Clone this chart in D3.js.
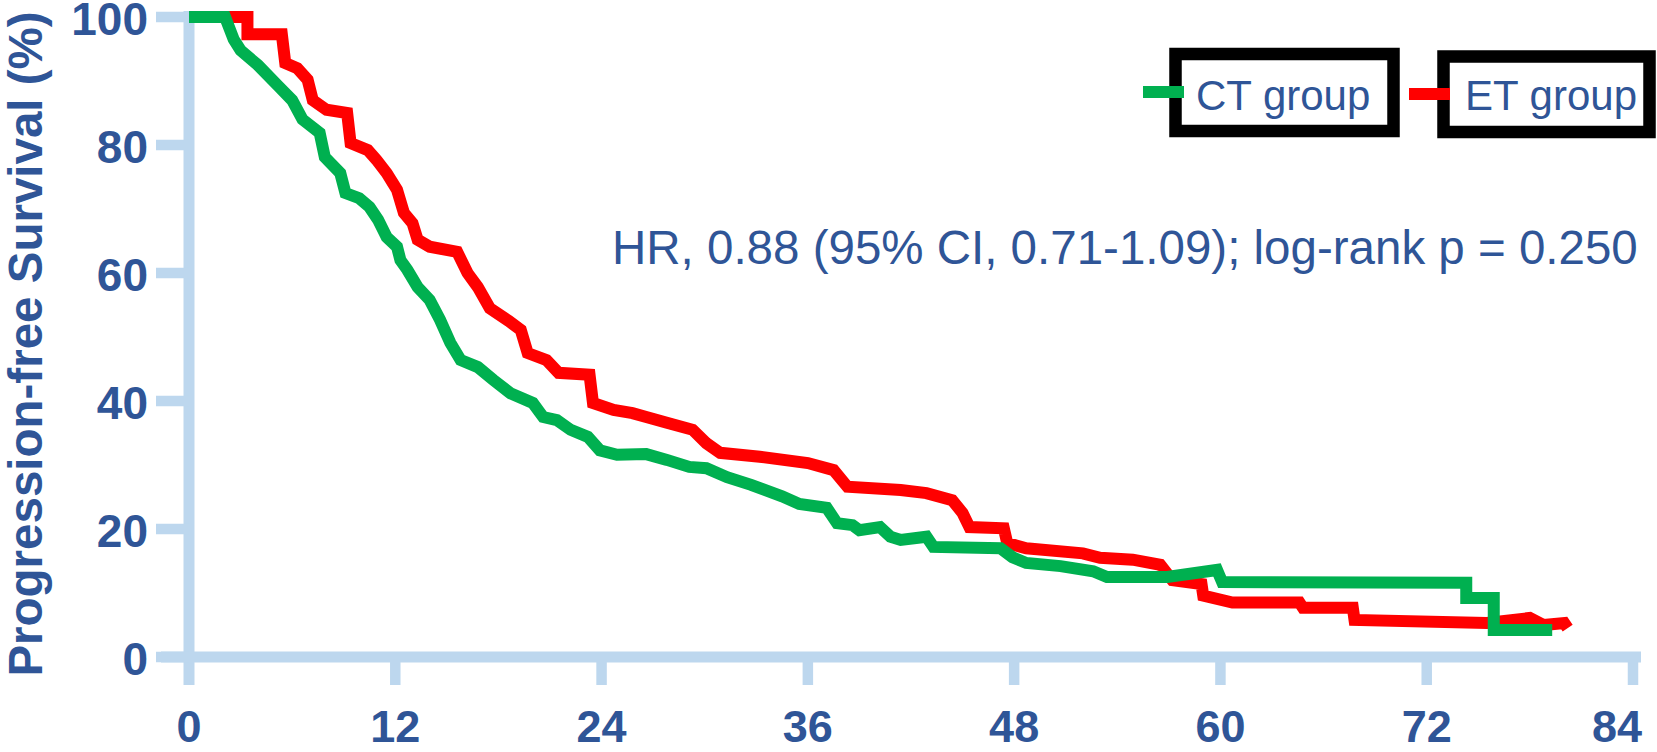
<!DOCTYPE html>
<html>
<head>
<meta charset="utf-8">
<script src="https://cdn.jsdelivr.net/npm/d3@7/dist/d3.min.js"></script>
<style>
  html, body { margin: 0; padding: 0; background: #ffffff; }
  svg { display: block; }
  text { font-family: "Liberation Sans", Arial, Helvetica, sans-serif; }
</style>
</head>
<body>
<svg id="chart" width="1657" height="752"></svg>
<script>
// Kaplan–Meier progression-free survival, CT vs ET group (months, % survival)
const ctMonths = [0, 2.1, 2.6, 3.0, 4.0, 5.2, 6.0, 6.6, 7.6, 7.9, 8.8, 9.1, 9.9, 10.5, 11.0, 11.5, 12.1, 12.3, 12.7,
  13.3, 14.0, 14.6, 15.2, 15.8, 16.8, 17.7, 18.7, 20.0, 20.6, 21.4, 22.2, 23.2, 23.9, 24.9, 26.6, 27.8, 29.1, 30.1,
  31.3, 32.7, 34.5, 35.5, 37.1, 37.7, 38.6, 39.0, 40.2, 40.8, 41.4, 42.9, 43.3, 47.2, 47.9, 48.7, 50.7, 52.6, 53.4,
  56.9, 59.8, 60.1, 74.3, 74.3, 75.9, 75.9, 79.3];
const ctSurvival = [100, 100, 96.5, 94.8, 92.5, 89.2, 87.0, 84.0, 81.9, 78.1, 75.6, 72.5, 71.7, 70.3, 68.3, 65.6, 64.1, 62.0, 60.5,
  57.8, 55.8, 52.7, 49.1, 46.4, 45.3, 43.3, 41.2, 39.7, 37.5, 37.0, 35.5, 34.4, 32.3, 31.6, 31.7, 30.8, 29.7, 29.5,
  28.1, 26.9, 25.1, 23.9, 23.3, 20.9, 20.6, 19.8, 20.3, 18.8, 18.3, 18.8, 17.2, 17.0, 15.6, 14.7, 14.2, 13.4, 12.5,
  12.5, 13.6, 11.7, 11.6, 9.2, 9.2, 4.2, 4.2];

const etMonths = [0, 3.4, 3.4, 5.4, 5.6, 6.3, 6.9, 7.2, 8.0, 9.2, 9.4, 10.4, 10.9, 11.5, 12.1, 12.5, 13.0, 13.3, 14.0,
  15.6, 16.2, 16.8, 17.5, 18.6, 19.3, 19.7, 20.8, 21.5, 23.3, 23.5, 24.7, 25.8, 26.6, 27.8, 29.3, 30.1, 30.9, 33.2,
  36.0, 37.5, 38.3, 41.4, 42.9, 44.4, 45.0, 45.4, 47.4, 47.6, 48.7, 52.0, 53.0, 54.9, 56.5, 57.2, 58.9, 59.0, 60.7,
  64.6, 64.8, 67.7, 67.8, 75.5, 78.0, 78.8, 80.0, 80.2];
const etSurvival = [100, 100, 97.3, 97.3, 92.8, 92.0, 90.2, 87.0, 85.5, 85.0, 80.3, 79.2, 77.7, 75.6, 73.0, 69.4, 67.8, 65.2, 64.1,
  63.3, 60.0, 57.8, 54.5, 52.5, 51.1, 47.5, 46.4, 44.4, 44.1, 39.7, 38.6, 38.1, 37.5, 36.6, 35.5, 33.4, 31.9, 31.3,
  30.3, 29.2, 26.6, 26.1, 25.6, 24.5, 22.5, 20.3, 20.1, 17.8, 17.0, 16.2, 15.5, 15.2, 14.4, 12.0, 11.4, 9.6, 8.5,
  8.5, 7.7, 7.7, 5.8, 5.3, 6.1, 5.0, 5.3, 4.5];

const xTicks = [0, 12, 24, 36, 48, 60, 72, 84];
const yTicks = [0, 20, 40, 60, 80, 100];

const groups = ["CT group", "ET group"];
const statsLabel = "HR, 0.88 (95% CI, 0.71-1.09); log-rank p = 0.250";
const yTitle = "Progression-free Survival (%)";

const COLORS = { ct: "#00B050", et: "#FF0000", axis: "#BDD7EE", text: "#2F5597" };

const svg = d3.select("#chart");
const W = 1657;

const x = d3.scaleLinear().domain([0, 84]).range([189, 1633]);
const y = d3.scaleLinear().domain([0, 100]).range([657, 17]);

// ---- axes ----
const axisG = svg.append("g").attr("stroke", COLORS.axis).attr("stroke-width", 11).attr("fill", "none");
// horizontal axis line, slightly overhanging the vertical axis
axisG.append("line").attr("x1", x(0) - 28).attr("x2", x(84) + 8).attr("y1", y(0)).attr("y2", y(0));
// vertical axis line, running down to the x tick length
axisG.append("line").attr("x1", x(0)).attr("x2", x(0)).attr("y1", y(100) - 6).attr("y2", y(0) + 28);

// y ticks pointing left
axisG.selectAll("line.ytick").data(yTicks).join("line")
  .attr("class", "ytick")
  .attr("x1", x(0) - 33).attr("x2", x(0))
  .attr("y1", d => y(d)).attr("y2", d => y(d))
  .attr("stroke-width", 10.5);

// x ticks pointing down
axisG.selectAll("line.xtick").data(xTicks.filter(d => d > 0)).join("line")
  .attr("class", "xtick")
  .attr("x1", d => x(d)).attr("x2", d => x(d))
  .attr("y1", y(0)).attr("y2", y(0) + 28)
  .attr("stroke-width", 10.5);

// tick labels
svg.append("g").selectAll("text").data(yTicks).join("text")
  .attr("x", x(0) - 41)
  .attr("y", d => y(d) + 18)
  .attr("text-anchor", "end")
  .attr("font-size", 46).attr("font-weight", "bold")
  .attr("fill", COLORS.text)
  .text(d => d);

svg.append("g").selectAll("text").data(xTicks).join("text")
  .attr("x", d => Math.min(x(d), W - 40))
  .attr("y", 742)
  .attr("text-anchor", "middle")
  .attr("font-size", 45).attr("font-weight", "bold")
  .attr("fill", COLORS.text)
  .text(d => d);

// y axis title
svg.append("text")
  .attr("transform", "translate(42,344) rotate(-90)")
  .attr("text-anchor", "middle")
  .attr("font-size", 47.5).attr("font-weight", "bold")
  .attr("fill", COLORS.text)
  .text(yTitle);

// ---- survival curves ----
const line = d3.line().x(d => x(d[0])).y(d => y(d[1])).curve(d3.curveLinear);
const ctData = ctMonths.map((m, i) => [m, ctSurvival[i]]);
const etData = etMonths.map((m, i) => [m, etSurvival[i]]);

svg.append("path").datum(etData)
  .attr("d", line)
  .attr("fill", "none").attr("stroke", COLORS.et).attr("stroke-width", 12)
  .attr("stroke-linejoin", "miter").attr("stroke-miterlimit", 3);

svg.append("path").datum(ctData)
  .attr("d", line)
  .attr("fill", "none").attr("stroke", COLORS.ct).attr("stroke-width", 12)
  .attr("stroke-linejoin", "miter").attr("stroke-miterlimit", 3);

// ---- legend ----
const legendItems = [
  { name: groups[0], color: COLORS.ct, box: [1175.5, 54, 218, 77], swatch: [1143, 1184, 92], tx: 1196, ty: 110 },
  { name: groups[1], color: COLORS.et, box: [1443.5, 56.5, 206, 75.5], swatch: [1409, 1450, 94], tx: 1465, ty: 110 }
];
const lg = svg.append("g");
legendItems.forEach(it => {
  lg.append("rect")
    .attr("x", it.box[0]).attr("y", it.box[1]).attr("width", it.box[2]).attr("height", it.box[3])
    .attr("fill", "#ffffff").attr("stroke", "#000000").attr("stroke-width", 12.5);
  lg.append("line")
    .attr("x1", it.swatch[0]).attr("x2", it.swatch[1]).attr("y1", it.swatch[2]).attr("y2", it.swatch[2])
    .attr("stroke", it.color).attr("stroke-width", 12);
  lg.append("text")
    .attr("x", it.tx).attr("y", it.ty)
    .attr("font-size", 42).attr("fill", COLORS.text)
    .text(it.name);
});

// ---- statistics annotation ----
svg.append("text")
  .attr("x", 612).attr("y", 264)
  .attr("font-size", 47.5).attr("fill", COLORS.text)
  .text(statsLabel);
</script>
</body>
</html>
